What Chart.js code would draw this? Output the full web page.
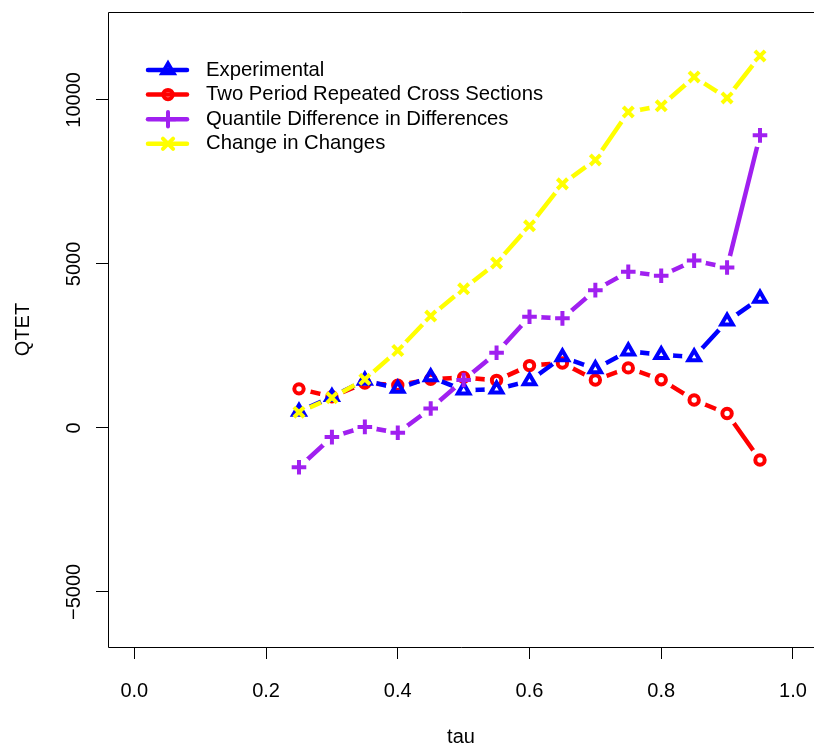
<!DOCTYPE html>
<html>
<head>
<meta charset="utf-8">
<script src="https://cdn.jsdelivr.net/npm/chart.js@4/dist/chart.umd.min.js"></script>
<style>html,body{margin:0;padding:0;background:#fff;overflow:hidden}canvas{display:block}</style>
</head>
<body>
<canvas id="c" width="814" height="747"></canvas>
<script>
// ---- data ----
const tau = [0.25, 0.30, 0.35, 0.40, 0.45, 0.50, 0.55, 0.60, 0.65, 0.70, 0.75, 0.80, 0.85, 0.90, 0.95];
const experimental = [500, 950, 1450, 1200, 1550, 1150, 1180, 1430, 2160, 1800, 2340, 2230, 2160, 3250, 3950];
const twoPeriod    = [1190, 950, 1370, 1300, 1480, 1540, 1450, 1900, 1980, 1460, 1830, 1470, 850, 440, -980];
const qdid         = [-1200, -280, 30, -150, 590, 1460, 2290, 3390, 3340, 4200, 4760, 4640, 5100, 4890, 8920];
const cic          = [480, 920, 1480, 2360, 3410, 4240, 5030, 6160, 7440, 8170, 9630, 9820, 10700, 10060, 11340];
const seriesNames = ['Experimental', 'Two Period Repeated Cross Sections', 'Quantile Difference in Differences', 'Change in Changes'];
const xTicks = [0.0, 0.2, 0.4, 0.6, 0.8, 1.0];
const yTicks = [-5000, 0, 5000, 10000];
const xLabel = 'tau';
const yLabel = 'QTET';

// ---- styles ----
const FONT = '"Liberation Sans", Arial, Helvetica, sans-serif';
const styles = [
  {color: '#0000FF', pointStyle: 'triangle', radius: 6.6},
  {color: '#FF0000', pointStyle: 'circle',   radius: 4.7},
  {color: '#A020F0', pointStyle: 'cross',    radius: 7.3},
  {color: '#FFFF00', pointStyle: 'crossRot', radius: 7.2}
];
const seriesValues = [experimental, twoPeriod, qdid, cic];
// R drawing order: red first, then blue, purple, yellow (yellow on top)
const drawRank = [1, 0, 2, 3];

const datasets = [];
seriesValues.forEach((vals, i) => {
  const pts = tau.map((t, k) => ({x: t, y: vals[k]}));
  const st = styles[i];
  const base = (3 - drawRank[i]) * 2;
  datasets.push({
    label: seriesNames[i] + ' (line)',
    data: pts,
    borderColor: st.color,
    borderWidth: 4.5,
    pointRadius: 0,
    pointHoverRadius: 0,
    showLine: true,
    fill: false,
    tension: 0,
    gapRadius: 12,
    order: base + 1
  });
  datasets.push({
    label: seriesNames[i],
    data: pts,
    showLine: false,
    pointStyle: st.pointStyle,
    pointRadius: st.radius,
    pointHoverRadius: st.radius,
    pointBorderColor: st.color,
    pointBackgroundColor: 'rgba(0,0,0,0)',
    pointBorderWidth: 4,
    pointHoverBorderWidth: 4,
    order: base
  });
});

// gaps in the line around every point (R type="b")
const gapPlugin = {
  id: 'gap',
  beforeDatasetDraw(chart, args) {
    const ds = chart.data.datasets[args.index];
    if (!ds.gapRadius) return;
    const ctx = chart.ctx;
    ctx.save();
    ctx.beginPath();
    ctx.rect(0, 0, chart.width, chart.height);
    args.meta.data.forEach(p => {
      ctx.moveTo(p.x + ds.gapRadius, p.y);
      ctx.arc(p.x, p.y, ds.gapRadius, 0, Math.PI * 2);
    });
    ctx.clip('evenodd');
  },
  afterDatasetDraw(chart, args) {
    const ds = chart.data.datasets[args.index];
    if (ds.gapRadius) chart.ctx.restore();
  }
};

// plot frame (box); right side lies beyond the canvas edge as in the reference
const framePlugin = {
  id: 'frame',
  afterDraw(chart) {
    const {ctx, chartArea: a} = chart;
    ctx.save();
    ctx.strokeStyle = '#000';
    ctx.lineWidth = 1;
    ctx.beginPath();
    ctx.moveTo(chart.width + 5, Math.round(a.top) + 0.5);
    ctx.lineTo(Math.round(a.left) + 0.5, Math.round(a.top) + 0.5);
    ctx.lineTo(Math.round(a.left) + 0.5, Math.round(a.bottom) + 0.5);
    ctx.lineTo(chart.width + 5, Math.round(a.bottom) + 0.5);
    ctx.stroke();
    ctx.restore();
  }
};

// R-style legend inside plot (bty="n")
function drawMarker(ctx, st, x, y) {
  const opts = {pointStyle: st.pointStyle, radius: st.radius, borderWidth: 4, rotation: 0};
  ctx.save();
  ctx.strokeStyle = st.color;
  ctx.fillStyle = 'rgba(0,0,0,0)';
  ctx.lineWidth = 4;
  if (Chart.helpers && Chart.helpers.drawPoint) {
    Chart.helpers.drawPoint(ctx, opts, x, y);
  }
  ctx.restore();
}
const legendPlugin = {
  id: 'rlegend',
  afterDatasetsDraw(chart) {
    const {ctx, chartArea: a} = chart;
    const x0 = a.left + 40, x1 = a.left + 79, xm = a.left + 60, xt = a.left + 98;
    const y0 = a.top + 58, dy = 24.6;
    ctx.save();
    ctx.font = '20.3px ' + FONT;
    ctx.textBaseline = 'middle';
    ctx.textAlign = 'left';
    seriesNames.forEach((name, i) => {
      const st = styles[i];
      const y = y0 + i * dy;
      ctx.strokeStyle = st.color;
      ctx.lineWidth = 4.5;
      ctx.lineCap = 'round';
      ctx.beginPath();
      ctx.moveTo(x0, y); ctx.lineTo(x1, y);
      ctx.stroke();
      drawMarker(ctx, st, xm, y);
      ctx.fillStyle = '#000';
      ctx.fillText(name, xt, y);
    });
    ctx.restore();
  }
};

function zeroPad(s) { s.paddingLeft = 0; s.paddingRight = 0; s.paddingTop = 0; s.paddingBottom = 0; }

Chart.defaults.font.family = FONT;
Chart.defaults.font.size = 20;
Chart.defaults.color = '#000';

new Chart(document.getElementById('c'), {
  type: 'line',
  data: {datasets},
  options: {
    responsive: false,
    animation: false,
    devicePixelRatio: 1,
    layout: {padding: {top: 12, left: 0, right: 0, bottom: 0}, autoPadding: false},
    plugins: {legend: {display: false}, tooltip: {enabled: false}},
    events: [],
    scales: {
      x: {
        type: 'linear',
        min: -0.04,
        max: 1.032,
        afterBuildTicks: s => { s.ticks = xTicks.map(v => ({value: v})); },
        afterFit: s => { s.height = 100; zeroPad(s); },
        border: {display: false},
        grid: {drawOnChartArea: false, drawTicks: true, tickLength: 12, color: '#000', tickColor: '#000', lineWidth: 1},
        ticks: {color: '#000', padding: 20, minRotation: 0, maxRotation: 0, autoSkip: false,
                font: {size: 20}, callback: v => Number(v).toFixed(1)},
        title: {display: true, text: xLabel, color: '#000', font: {size: 20}, padding: {top: 0, bottom: -2}}
      },
      y: {
        type: 'linear',
        min: -6680,
        max: 12680,
        afterBuildTicks: s => { s.ticks = yTicks.map(v => ({value: v})); },
        afterFit: s => { s.width = 108; zeroPad(s); },
        border: {display: false},
        grid: {drawOnChartArea: false, drawTicks: true, tickLength: 12, color: '#000', tickColor: '#000', lineWidth: 1},
        ticks: {color: '#000', padding: -7, minRotation: 90, maxRotation: 90, crossAlign: 'center', autoSkip: false,
                font: {size: 20}, callback: v => (v < 0 ? '\u2212' + Math.abs(v) : String(v))},
        title: {display: true, text: yLabel, color: '#000', font: {size: 20}, padding: {top: 11, bottom: 0}}
      }
    }
  },
  plugins: [gapPlugin, legendPlugin, framePlugin]
});
</script>
</body>
</html>
